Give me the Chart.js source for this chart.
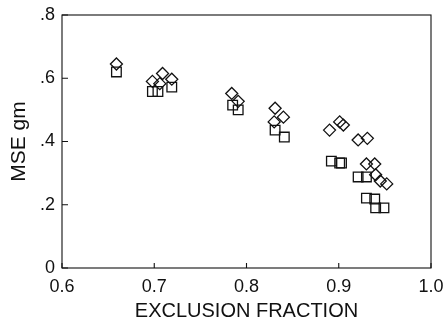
<!DOCTYPE html>
<html>
<head>
<meta charset="utf-8">
<script src="https://cdn.jsdelivr.net/npm/chart.js@4/dist/chart.umd.min.js"></script>
<style>
html,body{margin:0;padding:0;background:#fff;}
#wrap{width:445px;height:328px;}
</style>
</head>
<body>
<div id="wrap"><canvas id="c" width="445" height="328"></canvas></div>
<script>
const diamondX = [0.659, 0.698, 0.709, 0.706, 0.719, 0.784, 0.791, 0.831, 0.840, 0.830, 0.890, 0.901, 0.905, 0.921, 0.931, 0.930, 0.939, 0.940, 0.945, 0.952];
const diamondY = [0.645, 0.590, 0.615, 0.583, 0.597, 0.552, 0.527, 0.505, 0.477, 0.462, 0.436, 0.462, 0.452, 0.405, 0.410, 0.329, 0.329, 0.295, 0.275, 0.266];
const squareX = [0.659, 0.698, 0.704, 0.719, 0.785, 0.791, 0.831, 0.841, 0.892, 0.901, 0.903, 0.921, 0.930, 0.930, 0.939, 0.940, 0.949];
const squareY = [0.620, 0.558, 0.558, 0.572, 0.515, 0.500, 0.436, 0.414, 0.338, 0.332, 0.332, 0.288, 0.288, 0.221, 0.218, 0.190, 0.190];
const xTickLabels = {0.6:'0.6', 0.7:'0.7', 0.8:'0.8', 0.9:'0.9', 1.0:'1.0'};
const yTickLabels = {0:'0', 0.2:'.2', 0.4:'.4', 0.6:'.6', 0.8:'.8'};

const toPts = (xs, ys) => xs.map((x, i) => ({x: x, y: ys[i]}));

const framePlugin = {
  id: 'frame',
  afterDraw(chart) {
    const {ctx, chartArea: a, scales} = chart;
    ctx.save();
    ctx.strokeStyle = '#111';
    ctx.lineWidth = 1.1;
    ctx.strokeRect(a.left, a.top, a.right - a.left, a.bottom - a.top);
    ctx.beginPath();
    scales.x.ticks.forEach(t => {
      const p = scales.x.getPixelForValue(t.value);
      ctx.moveTo(p, a.bottom); ctx.lineTo(p, a.bottom - 5);
    });
    scales.y.ticks.forEach(t => {
      const p = scales.y.getPixelForValue(t.value);
      ctx.moveTo(a.left, p); ctx.lineTo(a.left + 6, p);
    });
    ctx.stroke();
    ctx.restore();
  }
};

new Chart(document.getElementById('c'), {
  type: 'scatter',
  data: {
    datasets: [
      {
        data: toPts(diamondX, diamondY),
        pointStyle: 'rectRot',
        pointRadius: 6,
        borderColor: '#111',
        backgroundColor: 'rgba(255,255,255,0)',
        borderWidth: 1.3
      },
      {
        data: toPts(squareX, squareY),
        pointStyle: 'rect',
        pointRadius: 6.8,
        borderColor: '#111',
        backgroundColor: 'rgba(255,255,255,0)',
        borderWidth: 1.3
      }
    ]
  },
  options: {
    responsive: false,
    animation: false,
    layout: {padding: {top: 15, right: 14, left: 0, bottom: 0}},
    plugins: {legend: {display: false}, tooltip: {enabled: false}},
    scales: {
      x: {
        type: 'linear', min: 0.6, max: 1.0,
        grid: {display: false, drawTicks: false}, border: {display: false},
        ticks: {
          stepSize: 0.1, color: '#111', padding: 8,
          font: {family: 'Liberation Sans', size: 18},
          callback: v => xTickLabels[Math.round(v * 10) / 10]
        },
        title: {display: true, text: 'EXCLUSION FRACTION', color: '#111',
          font: {family: 'Liberation Sans', size: 20}, padding: {top: 0, bottom: 5}},
        afterFit: s => { s.height = 60; s.paddingRight = 0; s.paddingLeft = 0; }
      },
      y: {
        type: 'linear', min: 0, max: 0.8,
        grid: {display: false, drawTicks: false}, border: {display: false},
        ticks: {
          stepSize: 0.2, color: '#111', padding: 7,
          font: {family: 'Liberation Sans', size: 18},
          callback: v => yTickLabels[Math.round(v * 10) / 10]
        },
        title: {display: true, text: 'MSE gm', color: '#111',
          font: {family: 'Liberation Sans', size: 21}, padding: {top: 7, bottom: 0}},
        afterFit: s => { s.width = 62; s.paddingTop = 0; s.paddingBottom = 0; }
      }
    }
  },
  plugins: [framePlugin]
});
</script>
</body>
</html>
